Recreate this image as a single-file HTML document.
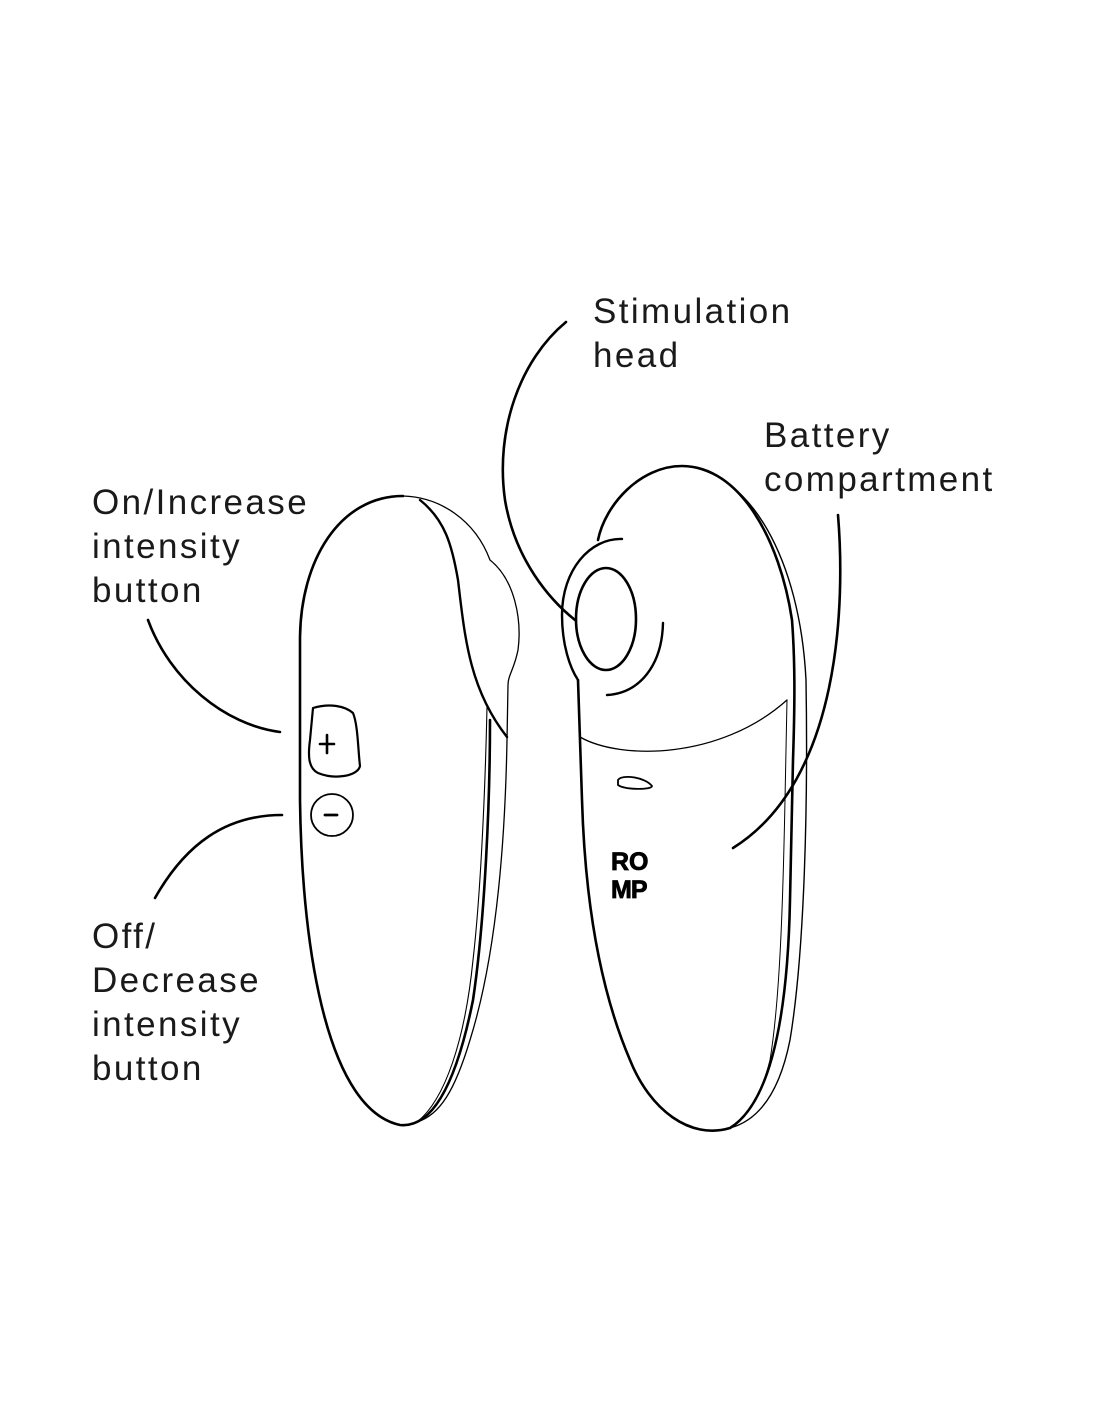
<!DOCTYPE html>
<html><head><meta charset="utf-8"><style>
html,body{margin:0;padding:0;background:#fff;}
svg{display:block}
text{font-family:"Liberation Sans",sans-serif;font-size:35px;fill:#1a1a1a;letter-spacing:2.4px}
</style></head><body>
<svg width="1100" height="1422" viewBox="0 0 1100 1422" xmlns="http://www.w3.org/2000/svg">
<g fill="none" stroke="#000" stroke-linecap="round" stroke-linejoin="round">
<!-- left device -->
<path d="M403,496 C340,496 300,560 300,640 L300,800 C302,960 330,1110 400,1125 C430,1128 455,1090 473,1000 C485,920 490,800 490,720" stroke-width="2.6"/>
<path d="M420,500 C445,520 452,545 458,580 C465,640 470,690 507,737" stroke-width="2.4"/>
<path d="M403,496 C440,497 475,520 490,560 C515,580 522,620 518,650 C514,670 508,675 508,685 L507,740 C505,850 495,960 470,1040 C455,1090 440,1115 417,1122" stroke-width="1.3"/>
<path d="M487,707 C485,800 480,900 473,960 C465,1040 445,1100 417,1122" stroke-width="1.1"/>
<path d="M313,708 C330,703 345,706 353,713 C358,725 358,750 360,766 C358,776 335,780 318,773 C308,768 308,755 310,740 Z" stroke-width="2.2"/>
<path d="M327,735 L327,753 M320,744 L334,744" stroke-width="2.6"/>
<circle cx="332" cy="815" r="21" stroke-width="1.8"/>
<path d="M325,815 L337,815" stroke-width="2.8"/>
<!-- right device -->
<path d="M598,540 C605,505 640,466 682,466 C740,466 780,540 792,620 C795,660 795,700 793,760 L790,900 C788,1000 775,1100 730,1128 C690,1140 650,1110 630,1060 C600,990 585,900 582,800 L578,680" stroke-width="2.6"/>
<path d="M682,466 C750,470 800,560 806,680 C808,800 805,950 790,1040 C780,1090 760,1120 730,1128" stroke-width="1.4"/>
<path d="M787,700 L785,800 C783,900 780,1000 770,1060 C760,1100 745,1118 735,1125" stroke-width="1"/>
<path d="M622,539 C590,538 562,570 562,615 C562,645 570,668 578,680" stroke-width="2.4"/>
<ellipse cx="606" cy="619" rx="30" ry="51" stroke-width="2.6"/>
<path d="M663,623 C662,665 640,693 607,695" stroke-width="2.4"/>
<path d="M580,737 C620,760 720,760 787,700" stroke-width="1.3"/>
<path d="M618,780 C622,774 645,777 652,786 C652,790 625,790 618,785 Z" stroke-width="1.8"/>
<!-- connectors -->
<path d="M148,620 C170,680 225,725 280,732" stroke-width="2.6"/>
<path d="M155,898 C185,845 225,815 282,815" stroke-width="2.6"/>
<path d="M566,322 C520,360 495,430 505,500 C515,560 550,600 575,620" stroke-width="2.6"/>
<path d="M838,515 C845,600 842,780 733,848" stroke-width="2.6"/>
</g>
<text x="611" y="870" style="font-weight:bold;font-size:25px;letter-spacing:0;fill:#000;stroke:#000;stroke-width:0.8">RO</text>
<text x="611" y="898" style="font-weight:bold;font-size:25px;letter-spacing:-1px;fill:#000;stroke:#000;stroke-width:0.8">MP</text>
<text x="593" y="323">Stimulation</text>
<text x="593" y="367">head</text>
<text x="764" y="447">Battery</text>
<text x="764" y="491">compartment</text>
<text x="92" y="514">On/Increase</text>
<text x="92" y="558">intensity</text>
<text x="92" y="602">button</text>
<text x="92" y="948">Off/</text>
<text x="92" y="992">Decrease</text>
<text x="92" y="1036">intensity</text>
<text x="92" y="1080">button</text>
</svg>
</body></html>
